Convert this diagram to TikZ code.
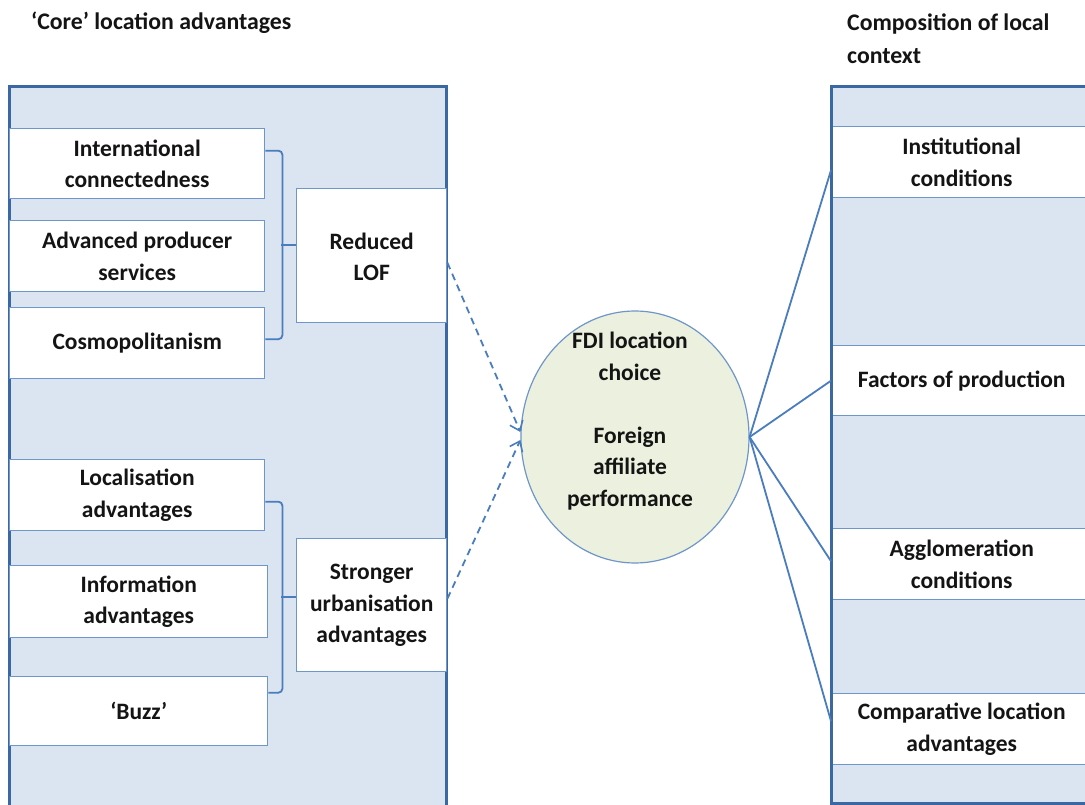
\documentclass[tikz,border=0pt]{standalone}
\usepackage{fontspec}
\setmainfont{Carlito}
\usetikzlibrary{arrows.meta,shapes.geometric}
\definecolor{panelfill}{HTML}{DBE5F1}
\definecolor{paneledge}{HTML}{3A68A2}
\definecolor{boxedge}{HTML}{6F96C8}
\definecolor{linkblue}{HTML}{4A7DBD}
\definecolor{ovalfill}{HTML}{EBF1DE}
\definecolor{inktext}{HTML}{141414}
\begin{document}
\begin{tikzpicture}[x=1pt,y=-1pt,
  every node/.style={text=inktext, font=\bfseries\fontsize{23.5}{31.5}\selectfont, align=center, inner sep=0pt},
  panel/.style={fill=panelfill, draw=paneledge, line width=3pt},
  itembox/.style={draw=boxedge, fill=white, line width=1.4pt, anchor=north west},
  bracket/.style={draw=linkblue, line width=1.8pt, rounded corners=4pt},
  dashlink/.style={draw=linkblue, line width=1.8pt, dashed, dash pattern=on 7pt off 5pt, -{Straight Barb[length=9pt,width=14pt,line width=1.6pt]}},
  link/.style={draw=linkblue, line width=1.8pt},
  title/.style={anchor=west, align=left, font=\bfseries\fontsize{23.8}{33}\selectfont}
]
\clip (0,0) rectangle (1085,805);
\fill[white] (0,0) rectangle (1085,805);

% headings
\node[title] (coretitle) at (31,23) {‘Core’ location advantages};
\node[title, anchor=north west] (ctxtitle) at (847,14) {Composition of local\\context};

% left panel
\draw[panel] (9,87) rectangle (446,830);

\node[itembox, minimum width=255pt, minimum height=70pt] (ic) at (9,128) {};
\node at (ic.center) {International\\connectedness};
\node[itembox, minimum width=255pt, minimum height=71pt] (aps) at (9,220) {};
\node at (aps.center) {Advanced producer\\services};
\node[itembox, minimum width=255pt, minimum height=71pt] (cos) at (9,307) {};
\node at (cos.center) {Cosmopolitanism};

\node[itembox, minimum width=150pt, minimum height=134pt] (lof) at (296,188) {};
\node at ([yshift=-1pt]lof.center) {Reduced\\LOF};

\node[itembox, minimum width=255pt, minimum height=71pt] (loc) at (9,459) {};
\node at (loc.center) {Localisation\\advantages};
\node[itembox, minimum width=258pt, minimum height=72pt] (inf) at (9,565) {};
\node at (inf.center) {Information\\advantages};
\node[itembox, minimum width=258pt, minimum height=69pt] (buzz) at (9,676) {};
\node at (buzz.center) {‘Buzz’};

\node[itembox, minimum width=150pt, minimum height=133pt] (su) at (296,538) {};
\node at ([yshift=-0.5pt]su.center) {Stronger\\urbanisation\\advantages};

% brackets grouping the advantages
\draw[bracket] ([yshift=13pt]ic.east) -- ++(17,0) |- ([yshift=4pt]cos.east);
\draw[bracket] ([yshift=11pt]lof.west) -- ++(-15,0);
\draw[bracket] ([yshift=-6.5pt]loc.east) -- ++(17,0) |- ([yshift=18.5pt]buzz.east);
\draw[bracket] ([yshift=8.5pt]su.west) -- ++(-15,0);

% central outcome
\node[ellipse, draw=boxedge, fill=ovalfill, line width=1.2pt, minimum width=228pt, minimum height=252pt] (fdi) at (635,437) {};
\node at (630,421) {FDI location\\choice\\[31.5pt]Foreign\\affiliate\\performance};

% right panel
\fill[panelfill] (831,87) rectangle (1100,803);
\node[itembox, minimum width=270pt, minimum height=71pt] (inst) at (831,126) {};
\node at ([xshift=-5pt]inst.center) {Institutional\\conditions};
\node[itembox, minimum width=270pt, minimum height=70pt] (fac) at (831,345) {};
\node at ([xshift=-5pt]fac.center) {Factors of production};
\node[itembox, minimum width=270pt, minimum height=71pt] (agg) at (831,528) {};
\node at ([xshift=-5pt]agg.center) {Agglomeration\\conditions};
\node[itembox, minimum width=270pt, minimum height=71pt] (cla) at (831,693) {};
\node at ([xshift=-5pt]cla.center) {Comparative location\\advantages};
\draw[draw=paneledge, line width=3pt] (831,803) rectangle (1100,87);

% links into and out of the outcome
\draw[dashlink] ([yshift=-7pt]lof.east) -- ([yshift=5pt]fdi.west);
\draw[dashlink] ([yshift=6.5pt]su.east) -- ([yshift=-3pt]fdi.west);
\draw[link] (fdi.east) -- ([yshift=-8pt]inst.west);
\draw[link] (fdi.east) -- (fac.west);
\draw[link] (fdi.east) -- ([yshift=3pt]agg.west);
\draw[link] (fdi.east) -- ([yshift=8pt]cla.west);
\end{tikzpicture}
\end{document}
